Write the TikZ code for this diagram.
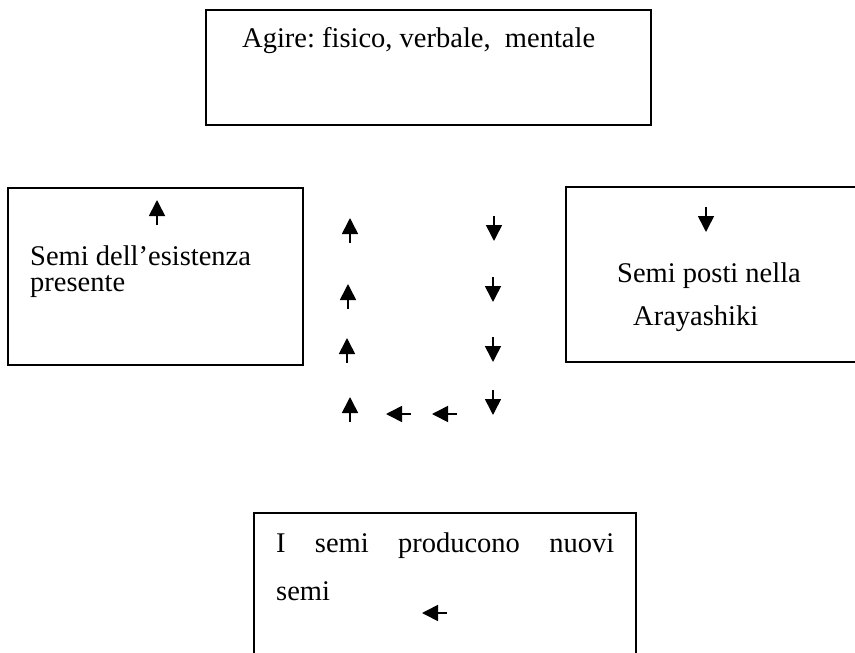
\documentclass[tikz,border=0pt]{standalone}
\usepackage{fontspec}
\setmainfont{Liberation Serif}
\usetikzlibrary{arrows.meta}
\frenchspacing
\tikzset{
	freccia/.style={-{Triangle[length=16pt,width=16pt]},line width=1.6pt},
	testo/.style={anchor=base west,inner sep=0pt,font=\fontsize{28.5}{32}\selectfont},
	riquadro/.style={line width=1.6pt}
}
\begin{document}
\begin{tikzpicture}[x=1pt,y=-1pt]
	\useasboundingbox (0,0) rectangle (855,653);
	\clip (0,0) rectangle (855,653);
	% riquadri
	\draw[riquadro] (206,10) rectangle (651,125);
	\draw[riquadro] (8,188) rectangle (303,365);
	\draw[riquadro] (860,187) -- (566,187) -- (566,362) -- (860,362);
	\draw[riquadro] (254,660) -- (254,513) -- (636,513) -- (636,660);
	% testi
	\node[testo] (agire) at (242,47) {Agire: fisico, verbale,\ \ mentale};
	\node[testo] (esistenza) at (30,265) {Semi dell’esistenza};
	\node[testo] (presente) at (30,291) {presente};
	\node[testo] (posti) at (617,282) {Semi posti nella};
	\node[testo] (arayashiki) at (633,325) {Arayashiki};
	\node[testo] (nuovi) at (276,552) {\makebox[338pt][s]{I semi producono nuovi}};
	\node[testo] (semi) at (276,600) {semi};
	% frecce
	\foreach \x/\y in {350/243,348/309,347/363,350/422,157/225}
		\draw[freccia] (\x,\y) -- ++(0,-25);
	\foreach \x/\y in {494/216,493/277,493/337,493/390,706/207}
		\draw[freccia] (\x,\y) -- ++(0,25);
	\foreach \x/\y in {411/414,457/414,447/613}
		\draw[freccia] (\x,\y) -- ++(-25,0);
\end{tikzpicture}
\end{document}
